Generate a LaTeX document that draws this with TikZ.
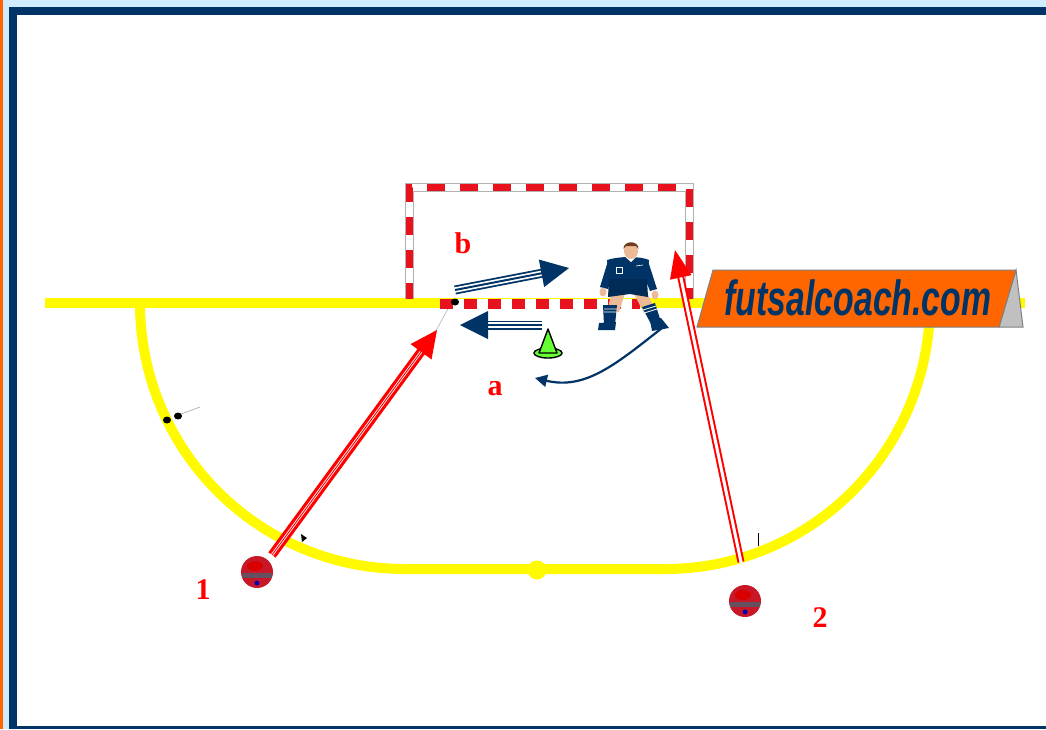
\documentclass[tikz,border=0pt]{standalone}
\usepackage{fontspec}
\setmainfont{Liberation Serif}
\newfontfamily\logofont{Liberation Sans}
\usetikzlibrary{arrows.meta,calc}
\definecolor{navy}{RGB}{0,51,102}
\definecolor{skyframe}{RGB}{208,236,255}
\definecolor{frameorange}{RGB}{255,102,0}
\definecolor{postred}{RGB}{232,18,30}
\definecolor{pitchyellow}{RGB}{255,250,0}
\definecolor{logoorange}{RGB}{255,102,0}
\definecolor{logogray}{RGB}{192,192,192}
\definecolor{skin}{RGB}{236,186,150}
\definecolor{hair}{RGB}{110,60,30}
\definecolor{conegreen}{RGB}{102,255,51}
\definecolor{ballred}{RGB}{200,24,40}
\definecolor{ballgray}{RGB}{100,80,95}
\tikzset{
  lbl/.style={text=red, font=\bfseries\fontsize{30}{30}\selectfont, inner sep=0pt},
  pitchline/.style={pitchyellow, line width=10pt},
  redpass/.style={red, line width=9pt},
  redgap/.style={white, line width=2.6pt},
  bluerun/.style={navy, line width=9pt},
  bluegap/.style={white, line width=5.4pt},
  bluemid/.style={navy, line width=2pt},
}
\begin{document}
\begin{tikzpicture}[x=1pt,y=-1pt]
% page and frame
\fill[skyframe] (0,0) rectangle (1046,729);
\fill[frameorange] (0,0) rectangle (3,729);
\fill[navy] (9,7) rectangle (1046,729);
\fill[white] (17,15) rectangle (1046,726);
\useasboundingbox (0,0) rectangle (1046,729);

% goal line and penalty area
\draw[pitchline] (45,303) -- (1025,303);
\draw[pitchline] (140,303) .. controls (140,450) and (258,569) .. (405,569)
  -- (665,569) .. controls (812,569) and (930,450) .. (930,303);
\fill[pitchyellow] (537,570) circle (9.5);

% small marks on the area line
\fill[black] (167,420) ellipse (4 and 3.5);
\fill[black] (178,416) ellipse (4 and 3.5);
\draw[gray!70, line width=0.6pt] (181,414) -- (200,407);
\fill[black] (301,534) -- (307,538) -- (302,542) -- cycle;
\draw[black, line width=1pt] (758,533) -- (758,546);
\draw[gray!60, line width=0.6pt] (450,305) -- (432,338);

% goal frame
\draw[gray!60, line width=9pt] (409,299) -- (409,187) -- (689,187) -- (689,299);
\draw[white, line width=7pt] (409,299) -- (409,187) -- (689,187) -- (689,299);
\draw[postred, line width=7pt, dash pattern=on 18pt off 15pt, dash phase=2pt]
  (409,299) -- (409,187) -- (689,187) -- (689,299);
\draw[white, line width=10pt] (440,304) -- (640,304);
\draw[postred, line width=10pt, dash pattern=on 13pt off 11pt] (440,304) -- (640,304);
\fill[black] (455,302) ellipse (4 and 3.5);

% cone
\filldraw[fill=conegreen, draw=black, line width=1.4pt] (548,353) ellipse (14 and 5);
\filldraw[fill=conegreen, draw=black, line width=1.4pt, line join=round]
  (548,329) -- (557,353) -- (539,353) -- cycle;
\coordinate (cone) at (548,341);

% goalkeeper
\begin{scope}
  % legs
  \fill[skin] (612,290) -- (626,290) -- (619,312) -- (607,312) -- cycle;
  \fill[skin] (632,290) -- (646,290) -- (655,310) -- (644,313) -- cycle;
  \fill[navy] (603,305) -- (617,305) -- (615,325) -- (604,325) -- cycle;
  \fill[navy] (642,307) -- (655,303) -- (661,322) -- (651,324) -- cycle;
  \draw[white, line width=0.8pt] (604,309) -- (617,309) (643,310) -- (656,306)
    (604,312) -- (617,312) (644,313) -- (657,309);
  \fill[navy] (599,323) -- (616,322) -- (615,330) -- (598,330) -- cycle;
  \fill[navy] (650,320) -- (661,318) -- (669,328) -- (652,331) -- cycle;
  % arms
  \fill[navy] (608,261) -- (600,287) -- (608,289) -- (616,266) -- cycle;
  \fill[navy] (648,261) -- (657,289) -- (650,291) -- (640,266) -- cycle;
  \fill[skin] (603,292) ellipse (3.5 and 4.5);
  \fill[skin] (655,295) ellipse (3.5 and 4.5);
  % shirt and shorts
  \fill[navy] (607,260) .. controls (620,256) and (640,256) .. (649,260)
    -- (646,285) -- (610,285) -- cycle;
  \fill[navy!85!black] (609,279) -- (647,279) -- (648,297) -- (630,294) -- (608,297) -- cycle;
  \fill[white] (623,255) -- (638,255) -- (631,262) -- cycle;
  \draw[white, line width=0.6pt] (616,267) rectangle (622,273);
  \draw[white, line width=0.6pt] (636,266) -- (643,265);
  % head
  \fill[skin] (631,251) ellipse (7 and 8);
  \fill[hair] (623.5,249) .. controls (623,240) and (639,240) .. (638.5,249)
    -- (636,246) -- (626,246) -- cycle;
\end{scope}
\coordinate (keeper) at (662,328);

% balls
\foreach \n/\bx/\by in {ballA/257/572, ballB/745/601}{
  \coordinate (\n) at (\bx,\by);
  \fill[ballred] (\n) circle (16);
  \fill[ballgray] ([xshift=-15pt,yshift=-1pt]\n) rectangle ([xshift=15pt,yshift=-6pt]\n);
  \fill[red!85!black] ([xshift=-2pt,yshift=6pt]\n) ellipse (8 and 5);
  \fill[ballred] ([yshift=-11pt]\n) ellipse (8 and 4);
  \fill[blue!70!black] ([yshift=-11pt]\n) circle (2.5);
}

% passes and runs
\coordinate (passAend) at (437,330);
\coordinate (passAstart) at (272,555);
\draw[redpass, shorten >=24pt] (passAstart) -- (passAend);
\draw[redgap, shorten >=24pt, shorten <=-1pt] (passAstart) -- (passAend);
\draw[red, line width=0.9pt, shorten >=24pt] (passAstart) -- (passAend);
\fill[red] (passAend) -- ($(passAend)!27pt!(passAstart)!13pt!90:(passAstart)$) -- ($(passAend)!27pt!(passAstart)!13pt!-90:(passAstart)$) -- cycle;

\coordinate (passBend) at (675,250);
\coordinate (passBstart) at (741,562);
\draw[red, line width=7pt, shorten >=22pt] (passBstart) -- (passBend);
\draw[white, line width=3pt, shorten >=22pt, shorten <=-1pt] (passBstart) -- (passBend);
\fill[red] (passBend) -- ($(passBend)!28pt!(passBstart)!11pt!90:(passBstart)$) -- ($(passBend)!28pt!(passBstart)!11pt!-90:(passBstart)$) -- cycle;

\coordinate (runBstart) at (455,290);
\coordinate (runBend) at (569,268);
\draw[bluerun, shorten >=24pt] (runBstart) -- (runBend);
\draw[bluegap, shorten >=24pt, shorten <=-1pt] (runBstart) -- (runBend);
\draw[bluemid, shorten >=24pt] (runBstart) -- (runBend);
\fill[navy] (runBend) -- ($(runBend)!28pt!(runBstart)!14pt!90:(runBstart)$) -- ($(runBend)!28pt!(runBstart)!14pt!-90:(runBstart)$) -- cycle;

\coordinate (runAstart) at (542,325);
\coordinate (runAend) at (460,325);
\draw[bluerun, shorten >=24pt] (runAstart) -- (runAend);
\draw[bluegap, shorten >=24pt, shorten <=-1pt] (runAstart) -- (runAend);
\draw[bluemid, shorten >=24pt] (runAstart) -- (runAend);
\fill[navy] (runAend) -- ($(runAend)!28pt!(runAstart)!14pt!90:(runAstart)$) -- ($(runAend)!28pt!(runAstart)!14pt!-90:(runAstart)$) -- cycle;

\coordinate (moveEnd) at (535,378);
\draw[navy, line width=2.2pt, -{Triangle[length=12pt, width=12pt]}]
  (keeper) .. controls (615,365) and (585,390) .. (moveEnd);

% labels
\node[lbl] (lb) at (463,243) {b};
\node[lbl] (la) at (495,389) {a};
\node[lbl] (l1) at (203,590) {1};
\node[lbl] (l2) at (820,618) {2};

% logo plate
\filldraw[fill=logogray, draw=gray, line width=1pt] (1016,270) -- (1023,327) -- (999,327) -- cycle;
\filldraw[fill=logoorange, draw=gray, line width=1pt] (713,270) -- (1016,270) -- (999,327) -- (697,327) -- cycle;
\node[text=navy, inner sep=0pt] (logo) at (858,298)
  {\scalebox{0.65}[0.95]{\logofont\bfseries\itshape\fontsize{52}{52}\selectfont futsalcoach.com}};
\end{tikzpicture}
\end{document}
